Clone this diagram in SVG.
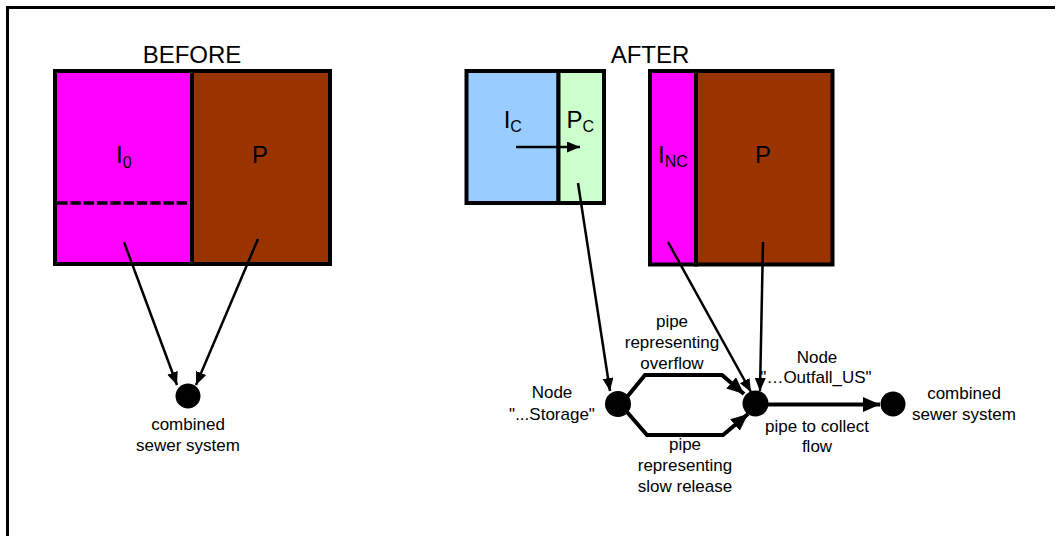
<svg xmlns="http://www.w3.org/2000/svg" width="1055" height="536" viewBox="0 0 1055 536">
<defs>
<style>
text{font-family:"Liberation Sans",Arial,sans-serif;fill:#000}
.big{font-size:24px}
.sub{font-size:16px}
.lbl{font-size:17px;text-anchor:middle}
.box{stroke:#000;stroke-width:4}
.thin{stroke:#000;stroke-width:2.5;fill:none;marker-end:url(#ah)}
.pipe{stroke:#000;stroke-width:4;fill:none;stroke-linejoin:miter;marker-end:url(#ahp)}
.node{fill:#000}
</style>
<marker id="ah" markerUnits="userSpaceOnUse" markerWidth="14" markerHeight="12" refX="13" refY="5.5" orient="auto">
<path d="M0,0 L13,5.5 L0,11 z" fill="#000"/>
</marker>
<marker id="ahp" markerUnits="userSpaceOnUse" markerWidth="18" markerHeight="16" refX="17" refY="7.5" orient="auto">
<path d="M0,0 L17,7.5 L0,15 z" fill="#000"/>
</marker>
</defs>
<rect x="0" y="0" width="1055" height="536" fill="#fff"/>
<rect x="7.5" y="7.5" width="1100" height="600" fill="none" stroke="#000" stroke-width="3"/>

<text class="big" x="192" y="63" text-anchor="middle">BEFORE</text>
<text class="big" x="650" y="63" text-anchor="middle">AFTER</text>

<g id="before-box">
<rect class="box" x="55" y="71" width="137" height="193" fill="#FF00FF"/>
<rect class="box" x="192" y="71" width="138" height="193" fill="#993300"/>
<line x1="57" y1="203" x2="187" y2="203" stroke="#000" stroke-width="3.5" stroke-dasharray="10.5 2.8"/>
<text class="big" x="116" y="163">I<tspan class="sub" dy="5">0</tspan></text>
<text class="big" x="252" y="163">P</text>
</g>

<g id="after-box-c">
<rect class="box" x="466.5" y="71" width="92" height="132" fill="#99CCFF"/>
<rect class="box" x="558.5" y="71" width="45.5" height="132" fill="#CCFFCC"/>
<text class="big" x="503.7" y="127.7">I<tspan class="sub" dy="4">C</tspan></text>
<text class="big" x="566.4" y="127.7">P<tspan class="sub" dy="4">C</tspan></text>
</g>

<g id="after-box-nc">
<rect class="box" x="650" y="71" width="46" height="193.5" fill="#FF00FF"/>
<rect class="box" x="696" y="71" width="136.5" height="193.5" fill="#993300"/>
<text class="big" x="658" y="163.3">I<tspan class="sub" dy="4">NC</tspan></text>
<text class="big" x="755" y="163">P</text>
</g>

<g id="node-combined-before">
<circle class="node" cx="188" cy="396" r="12.5"/>
<text class="lbl" x="188" y="430">combined</text>
<text class="lbl" x="188" y="451">sewer system</text>
</g>

<g id="node-storage">
<circle class="node" cx="618" cy="404" r="13"/>
<text class="lbl" x="552" y="398">Node</text>
<text class="lbl" x="552" y="420">"...Storage"</text>
</g>

<g id="node-outfall">
<circle class="node" cx="755.5" cy="403.5" r="13"/>
<text class="lbl" x="817" y="363">Node</text>
<text class="lbl" x="816" y="383">"…Outfall_US"</text>
</g>

<g id="node-combined-after">
<circle class="node" cx="893" cy="404" r="12.5"/>
<text class="lbl" x="964" y="399">combined</text>
<text class="lbl" x="964" y="420">sewer system</text>
</g>

<g id="connectors">
<line class="thin" x1="124" y1="242" x2="177" y2="385"/>
<line class="thin" x1="258" y1="239" x2="196" y2="385"/>
<line class="thin" x1="516" y1="147" x2="580" y2="147"/>
<line class="thin" x1="578" y1="183" x2="610" y2="391"/>
<line class="thin" x1="668" y1="242" x2="751" y2="392"/>
<line class="thin" x1="763" y1="242" x2="760" y2="391"/>
<polyline class="pipe" points="627,397 645,375 722,375 744,394"/>
<polyline class="pipe" points="627,412 647,435 723,435 748,414"/>
<line class="pipe" x1="766" y1="404.5" x2="880" y2="404.5"/>
<g id="pipe-labels">
<text class="lbl" x="672" y="327">pipe</text>
<text class="lbl" x="672" y="348">representing</text>
<text class="lbl" x="672" y="369">overflow</text>
<text class="lbl" x="685" y="450">pipe</text>
<text class="lbl" x="685" y="471">representing</text>
<text class="lbl" x="685" y="492">slow release</text>
<text class="lbl" x="817" y="432">pipe to collect</text>
<text class="lbl" x="817" y="452">flow</text>
</g>
</g>
</svg>
